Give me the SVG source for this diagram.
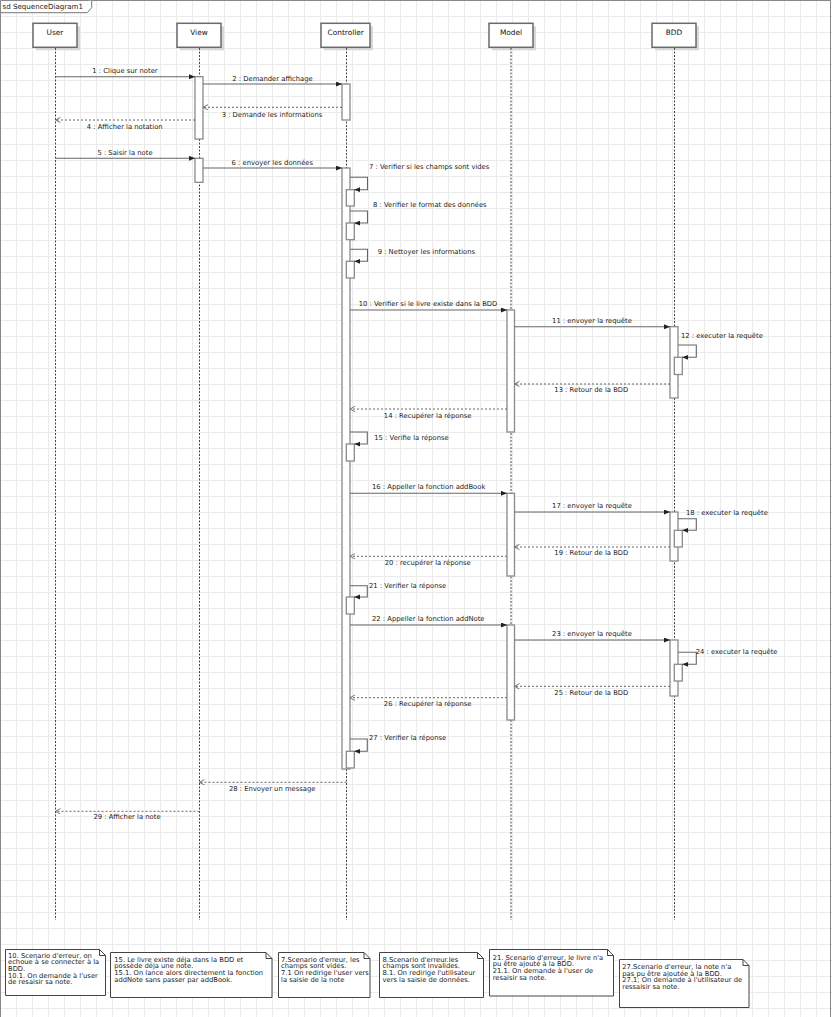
<svg xmlns="http://www.w3.org/2000/svg" width="832" height="1017" viewBox="0 0 832 1017">
<defs>
<pattern id="grid" width="16" height="16" patternUnits="userSpaceOnUse">
<path d="M0.5 0 V16 M0 0.5 H16" fill="none" stroke="#ebebeb" stroke-width="1"/>
</pattern>
<marker id="sync" markerUnits="userSpaceOnUse" markerWidth="7" markerHeight="6" refX="6" refY="2.5" orient="auto">
<path d="M0,0 L6,2.5 L0,5 z" fill="#222"/>
</marker>
<marker id="ret" markerUnits="userSpaceOnUse" markerWidth="7" markerHeight="7" refX="5" refY="3" orient="auto">
<path d="M0,0.3 L5,3 L0,5.7" fill="none" stroke="#666" stroke-width="0.9"/>
</marker>
<style>
text{font-family:"DejaVu Sans","Liberation Sans",sans-serif;fill:#222}
.lbl{font-size:6.8px}
.mid{text-anchor:middle}
.hdr{font-size:7.4px;text-anchor:middle;fill:#111}
.note{font-size:6.75px}
.head{fill:#fff;stroke:#6a6a6a;stroke-width:1.5}
.shadow{fill:#d8d8d8}
.life{stroke:#444;stroke-width:1;stroke-dasharray:2 1.5;fill:none}
.act{fill:#fff;stroke:#8a8a8a;stroke-width:1.3}
.msg{fill:none;stroke:#666;stroke-width:1.1;marker-end:url(#sync)}
.rtn{fill:none;stroke:#666;stroke-width:1;stroke-dasharray:2 2;marker-end:url(#ret)}
.nbox{fill:#fff;stroke:#444;stroke-width:1}
.fold{fill:none;stroke:#444;stroke-width:1}
</style>
</defs>
<rect x="0" y="0" width="832" height="1017" fill="#fff"/>
<rect x="0" y="0" width="832" height="1017" fill="url(#grid)"/>
<g id="frame">
<path d="M0.5,1017 V0.5 H830.5 V1017" fill="none" stroke="#888" stroke-width="1"/>
<path d="M0.5,12.7 H87.3 L91.7,7.5 V0.5" fill="#fff" stroke="#777" stroke-width="1"/>
<text x="2.5" y="9.3" style="font-size:7.1px">sd SequenceDiagram1</text>
</g>
<g id="lifeline-user">
<rect class="shadow" x="36" y="26.3" width="44" height="24"/>
<rect class="head" x="33" y="23.3" width="44" height="24"/>
<text class="hdr" x="55" y="34.5">User</text>
<line class="life" x1="55.5" y1="48" x2="55.5" y2="920"/>
</g>
<g id="lifeline-view">
<rect class="shadow" x="180" y="26.3" width="44" height="24"/>
<rect class="head" x="177" y="23.3" width="44" height="24"/>
<text class="hdr" x="199" y="34.5">View</text>
<line class="life" x1="199.5" y1="48" x2="199.5" y2="920"/>
<rect class="act" x="195" y="76.7" width="8" height="62.3"/>
<rect class="act" x="195" y="158.3" width="8" height="24"/>
</g>
<g id="lifeline-controller">
<rect class="shadow" x="324" y="26.3" width="49" height="24"/>
<rect class="head" x="321" y="23.3" width="49" height="24"/>
<text class="hdr" x="345.7" y="34.5">Controller</text>
<line class="life" x1="346.5" y1="48" x2="346.5" y2="920"/>
<rect class="act" x="342" y="84" width="8" height="36"/>
<rect class="act" x="342" y="168" width="8" height="601"/>
<rect class="act" x="346.3" y="189.7" width="8" height="16.3"/>
<rect class="act" x="346.3" y="223" width="8" height="16.7"/>
<rect class="act" x="346.3" y="261.3" width="8" height="16.7"/>
<rect class="act" x="346.3" y="444" width="8" height="17"/>
<rect class="act" x="346.3" y="597" width="8" height="17"/>
<rect class="act" x="346.3" y="751.3" width="8" height="16.7"/>
</g>
<g id="lifeline-model">
<rect class="shadow" x="492" y="26.3" width="44" height="24"/>
<rect class="head" x="489" y="23.3" width="44" height="24"/>
<text class="hdr" x="511" y="34.5">Model</text>
<line class="life" x1="511" y1="48" x2="511" y2="920"/>
<rect class="act" x="507" y="310" width="7.5" height="122"/>
<rect class="act" x="507" y="493.3" width="7.5" height="82.7"/>
<rect class="act" x="507" y="625" width="7.5" height="95"/>
</g>
<g id="lifeline-bdd">
<rect class="shadow" x="655" y="26.3" width="44" height="24"/>
<rect class="head" x="652" y="23.3" width="44" height="24"/>
<text class="hdr" x="674" y="34.5">BDD</text>
<line class="life" x1="674.5" y1="48" x2="674.5" y2="920"/>
<rect class="act" x="670" y="326.7" width="8" height="71.3"/>
<rect class="act" x="670" y="512" width="8" height="49"/>
<rect class="act" x="670" y="640" width="8" height="56"/>
<rect class="act" x="674.3" y="357.3" width="8" height="17.2"/>
<rect class="act" x="674.3" y="530.3" width="8" height="16.7"/>
<rect class="act" x="674.3" y="664.3" width="8" height="16.7"/>
</g>
<g id="connectors">
<path class="msg" d="M55.5,76.7 H195"/>
<path class="msg" d="M203,84 H342"/>
<path class="rtn" d="M342,107.3 H203"/>
<path class="rtn" d="M195,120 H55.5"/>
<path class="msg" d="M55.5,158.3 H195"/>
<path class="msg" d="M203,168 H342"/>
<path class="msg" d="M350,177.3 H367.5 V189.7 H354.3"/>
<path class="msg" d="M350,211 H367.5 V223 H354.3"/>
<path class="msg" d="M350,249.3 H367.5 V261.3 H354.3"/>
<path class="msg" d="M350,310 H507"/>
<path class="msg" d="M514.5,326.7 H670"/>
<path class="msg" d="M678,345 H696.3 V357.3 H682.3"/>
<path class="rtn" d="M670,384 H514.5"/>
<path class="rtn" d="M507,409 H350"/>
<path class="msg" d="M350,432 H367.3 V444 H354.3"/>
<path class="msg" d="M350,493.3 H507"/>
<path class="msg" d="M514.5,512 H670"/>
<path class="msg" d="M678,518.7 H696.3 V530.3 H682.3"/>
<path class="rtn" d="M670,547 H514.5"/>
<path class="rtn" d="M507,556.3 H350"/>
<path class="msg" d="M350,585.7 H367.3 V597 H354.3"/>
<path class="msg" d="M350,625 H507"/>
<path class="msg" d="M514.5,640 H670"/>
<path class="msg" d="M678,652.3 H696.3 V664.3 H682.3"/>
<path class="rtn" d="M670,686.3 H514.5"/>
<path class="rtn" d="M507,697.7 H350"/>
<path class="msg" d="M350,739 H367.3 V751.3 H354.3"/>
<path class="rtn" d="M346.5,782.3 H199.5"/>
<path class="rtn" d="M199.5,811.3 H55.5"/>
<text class="lbl mid" x="125" y="73">1 : Clique sur noter</text>
<text class="lbl mid" x="272.5" y="80.5">2 : Demander affichage</text>
<text class="lbl mid" x="272" y="116.5">3 : Demande les informations</text>
<text class="lbl mid" x="124.7" y="128.5">4 : Afficher la notation</text>
<text class="lbl mid" x="125" y="155">5 : Saisir la note</text>
<text class="lbl mid" x="272.3" y="164.5">6 : envoyer les données</text>
<text class="lbl" x="369" y="169">7 : Verifier si les champs sont vides</text>
<text class="lbl" x="373" y="206.5">8 : Verifier le format des données</text>
<text class="lbl" x="377.7" y="254">9 : Nettoyer les informations</text>
<text class="lbl mid" x="428" y="306">10 : Verifier si le livre existe dans la BDD</text>
<text class="lbl mid" x="592" y="323">11 : envoyer la requête</text>
<text class="lbl" x="681" y="337.5">12 : executer la requête</text>
<text class="lbl mid" x="591.3" y="392">13 : Retour de la BDD</text>
<text class="lbl mid" x="427.7" y="417.5">14 : Recupérer la réponse</text>
<text class="lbl" x="374.3" y="440">15 : Verifie la réponse</text>
<text class="lbl mid" x="428.7" y="489">16 : Appeller la fonction addBook</text>
<text class="lbl mid" x="592" y="508">17 : envoyer la requête</text>
<text class="lbl" x="686" y="515">18 : executer la requête</text>
<text class="lbl mid" x="591.3" y="555">19 : Retour de la BDD</text>
<text class="lbl mid" x="427.7" y="565">20 : recupérer la réponse</text>
<text class="lbl" x="369" y="587.5">21 : Verifier la réponse</text>
<text class="lbl mid" x="428.3" y="621">22 : Appeller la fonction addNote</text>
<text class="lbl mid" x="592" y="636">23 : envoyer la requête</text>
<text class="lbl" x="695.7" y="654">24 : executer la requête</text>
<text class="lbl mid" x="591.3" y="695">25 : Retour de la BDD</text>
<text class="lbl mid" x="427.7" y="706.3">26 : Recupérer la réponse</text>
<text class="lbl" x="369" y="740">27 : Verifier la réponse</text>
<text class="lbl mid" x="272.2" y="791.3">28 : Envoyer un message</text>
<text class="lbl mid" x="127" y="819.3">29 : Afficher la note</text>
</g>
<g id="note-10">
<path class="nbox" d="M5.5,949.5 H99.5 L105.5,955.5 V995.5 H5.5 Z"/>
<path class="fold" d="M99.5,949.5 V955.5 H105.5"/>
<text class="note" x="8" y="957.7">10. Scenario d'erreur, on</text>
<text class="note" x="8" y="964.3">echoue à se connecter à la</text>
<text class="note" x="8" y="971">BDD.</text>
<text class="note" x="8" y="977.7">10.1. On demande à l'user</text>
<text class="note" x="8" y="984.3">de resaisir sa note.</text>
</g>
<g id="note-15">
<path class="nbox" d="M110.5,952.5 H266 L272,958.5 V997.5 H110.5 Z"/>
<path class="fold" d="M266,952.5 V958.5 H272"/>
<text class="note" x="114.3" y="961.7">15. Le livre existe déja dans la BDD et</text>
<text class="note" x="114.3" y="968.3">possède déja une note.</text>
<text class="note" x="114.3" y="975">15.1. On lance alors directement la fonction</text>
<text class="note" x="114.3" y="981.7">addNote sans passer par addBook.</text>
</g>
<g id="note-7">
<path class="nbox" d="M278.5,952.5 H364 L370,958.5 V997.5 H278.5 Z"/>
<path class="fold" d="M364,952.5 V958.5 H370"/>
<text class="note" x="281" y="961.7">7.Scenario d'erreur, les</text>
<text class="note" x="281" y="968.3">champs sont vides.</text>
<text class="note" x="281" y="975">7.1 On redirige l'user vers</text>
<text class="note" x="281" y="981.7">la saisie de la note</text>
</g>
<g id="note-8">
<path class="nbox" d="M379.5,952.5 H477.5 L483.5,958.5 V997.5 H379.5 Z"/>
<path class="fold" d="M477.5,952.5 V958.5 H483.5"/>
<text class="note" x="382.5" y="961.7">8.Scenario d'erreur.les</text>
<text class="note" x="382.5" y="968.3">champs sont invalides.</text>
<text class="note" x="382.5" y="975">8.1. On redirige l'utilisateur</text>
<text class="note" x="382.5" y="981.7">vers la saisie de données.</text>
</g>
<g id="note-21">
<path class="nbox" d="M489.5,949.5 H607.5 L613.5,955.5 V996 H489.5 Z"/>
<path class="fold" d="M607.5,949.5 V955.5 H613.5"/>
<text class="note" x="492.7" y="959.7">21. Scenario d'erreur, le livre n'a</text>
<text class="note" x="492.7" y="966.3">pu être ajouté à la BDD.</text>
<text class="note" x="492.7" y="973">21.1. On demande à l'user de</text>
<text class="note" x="492.7" y="979.7">resaisir sa note.</text>
</g>
<g id="note-27">
<path class="nbox" d="M619.5,959.5 H743 L749,965.5 V1007.5 H619.5 Z"/>
<path class="fold" d="M743,959.5 V965.5 H749"/>
<text class="note" x="622.3" y="969">27.Scenario d'erreur, la note n'a</text>
<text class="note" x="622.3" y="975.7">pas pu être ajoutée à la BDD.</text>
<text class="note" x="622.3" y="982.3">27.1; On demande à l'utilisateur de</text>
<text class="note" x="622.3" y="989">ressaisir sa note.</text>
</g>
</svg>
